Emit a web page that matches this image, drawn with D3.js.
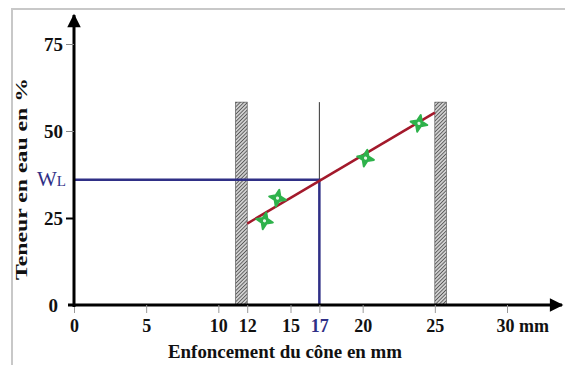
<!DOCTYPE html>
<html>
<head>
<meta charset="utf-8">
<script src="https://cdn.jsdelivr.net/npm/d3@7"></script>
<style>
  body { margin: 0; background: #fff; }
  svg text { font-family: "Liberation Serif", "Times New Roman", serif; font-weight: bold; }
</style>
</head>
<body>
<div id="chart"></div>
<script>
// data
const xTicks = [0, 5, 10, 12, 15, 17, 20, 25, 30];
const yTicks = [0, 25, 50, 75];
const pointX = [13.2, 14.1, 20.2, 23.9];
const pointY = [24.2, 30.7, 42.2, 52.2];
const fitX = [12, 25];
const fitY = [23.4, 55.3];
const wL = 36;
const conePen = 17;
const zoneStart = [11.2, 25];
const zoneEnd = [12, 25.8];
const zoneTop = 58.3;

const W = 565, H = 365;
const svg = d3.select("#chart").append("svg")
    .attr("width", W).attr("height", H);

const x = d3.scaleLinear().domain([0, 30]).range([74, 507]);
const y = d3.scaleLinear().domain([0, 75]).range([305, 44]);

const blue = "#2f2f86", red = "#a3192b", green = "#2eb24b";

// frame (top and left only)
svg.append("path")
    .attr("d", `M12,${H} V9 H${W}`)
    .attr("fill", "none").attr("stroke", "#c8c8c8").attr("stroke-width", 2);

// hatch pattern
const defs = svg.append("defs");
const pat = defs.append("pattern")
    .attr("id", "hatch").attr("patternUnits", "userSpaceOnUse")
    .attr("width", 2.6).attr("height", 2.6)
    .attr("patternTransform", "rotate(45)");
pat.append("rect").attr("width", 2.6).attr("height", 2.6).attr("fill", "#d0d0d0");
pat.append("line").attr("x1", 0).attr("y1", 0).attr("x2", 0).attr("y2", 2.6)
    .attr("stroke", "#222").attr("stroke-width", 1.2);

defs.append("marker")
    .attr("id", "arr").attr("viewBox", "0 0 10 10")
    .attr("refX", 9).attr("refY", 5)
    .attr("markerWidth", 5.5).attr("markerHeight", 4.5)
    .attr("markerUnits", "strokeWidth")
    .attr("orient", "auto")
    .append("path").attr("d", "M0,0 L10,5 L0,10 Z").attr("fill", "#000");

// hatched zones
svg.selectAll(".zone")
    .data(zoneStart.map((s, i) => ({ s, e: zoneEnd[i] })))
    .enter().append("rect")
    .attr("class", "zone")
    .attr("x", d => x(d.s))
    .attr("width", d => x(d.e) - x(d.s))
    .attr("y", y(zoneTop))
    .attr("height", y(0) - y(zoneTop))
    .attr("fill", "url(#hatch)")
    .attr("stroke", "#444").attr("stroke-width", 0.6);

// thin vertical at 17
svg.append("line")
    .attr("x1", x(conePen)).attr("x2", x(conePen))
    .attr("y1", y(zoneTop)).attr("y2", y(wL))
    .attr("stroke", "#333").attr("stroke-width", 1);

// WL lines
svg.append("path")
    .attr("d", `M${x(0)},${y(wL)} H${x(conePen)} V${y(0)}`)
    .attr("fill", "none").attr("stroke", blue).attr("stroke-width", 2.5);

// fitted line
const line = d3.line().x(d => x(d[0])).y(d => y(d[1]));
svg.append("path")
    .attr("d", line(fitX.map((v, i) => [v, fitY[i]])))
    .attr("fill", "none").attr("stroke", red).attr("stroke-width", 2.5);

// points (four-pointed stars)
const r = 8.5, a = 2.4;
const star = `M0,${-r} L${a},${-a} L${r},0 L${a},${a} L0,${r} L${-a},${a} L${-r},0 L${-a},${-a} Z`;
const pts = svg.selectAll(".pt")
    .data(pointX.map((v, i) => [v, pointY[i]]))
    .enter().append("g")
    .attr("class", "pt")
    .attr("transform", d => `translate(${x(d[0])},${y(d[1])}) rotate(12)`);
pts.append("path")
    .attr("d", star)
    .attr("fill", green)
    .attr("stroke", green).attr("stroke-width", 2)
    .attr("stroke-linejoin", "round");
pts.append("circle").attr("r", 1.6).attr("fill", "#e6f7e8");

// x axis
svg.append("line")
    .attr("x1", 68).attr("x2", 562)
    .attr("y1", y(0)).attr("y2", y(0))
    .attr("stroke", "#000").attr("stroke-width", 3)
    .attr("marker-end", "url(#arr)");

const xAxis = svg.append("g")
    .attr("transform", `translate(0,${y(0)})`)
    .call(d3.axisBottom(x).tickValues(xTicks).tickSize(8).tickPadding(6)
        .tickFormat(d => d === 30 ? "30 mm" : d));
xAxis.select(".domain").remove();
xAxis.selectAll(".tick line").attr("stroke", "#999").attr("stroke-width", 1);
xAxis.selectAll(".tick text")
    .style("font-size", "18px").attr("fill", "#111")
    .filter(d => d === 30).attr("text-anchor", "start").attr("x", -11);
xAxis.selectAll(".tick text").filter(d => d === 17).attr("fill", blue);

// y axis
svg.append("line")
    .attr("x1", x(0)).attr("x2", x(0))
    .attr("y1", y(0) + 2).attr("y2", 15)
    .attr("stroke", "#000").attr("stroke-width", 3)
    .attr("marker-end", "url(#arr)");

const yAxis = svg.append("g")
    .attr("transform", `translate(${x(0)},0)`)
    .call(d3.axisLeft(y).tickValues(yTicks).tickSize(8).tickPadding(3));
yAxis.select(".domain").remove();
yAxis.selectAll(".tick line").attr("stroke", "#888").attr("stroke-width", 1);
yAxis.selectAll(".tick line").filter(d => d === 25).attr("stroke", "#000").attr("stroke-width", 2);
yAxis.selectAll(".tick line").filter(d => d === 0).remove();
yAxis.selectAll(".tick text").style("font-size", "19px").attr("fill", "#111");
yAxis.selectAll(".tick text").filter(d => d === 0).attr("x", -16);

// WL label
const wl = svg.append("text")
    .attr("x", 66).attr("y", y(wL) + 6)
    .attr("text-anchor", "end")
    .attr("fill", blue)
    .style("font-weight", "normal");
wl.append("tspan").style("font-size", "21px").text("W");
wl.append("tspan").style("font-size", "15px").text("L");

// axis titles
svg.append("text")
    .attr("x", 285).attr("y", 358)
    .attr("text-anchor", "middle")
    .style("font-size", "18px")
    .attr("textLength", 234).attr("lengthAdjust", "spacingAndGlyphs")
    .attr("fill", "#111")
    .text("Enfoncement du cône en mm");

svg.append("text")
    .attr("transform", `translate(27,${179}) rotate(-90)`)
    .attr("text-anchor", "middle")
    .style("font-size", "16px")
    .attr("textLength", 202).attr("lengthAdjust", "spacingAndGlyphs")
    .attr("fill", "#111")
    .text("Teneur en eau en %");
</script>
</body>
</html>
